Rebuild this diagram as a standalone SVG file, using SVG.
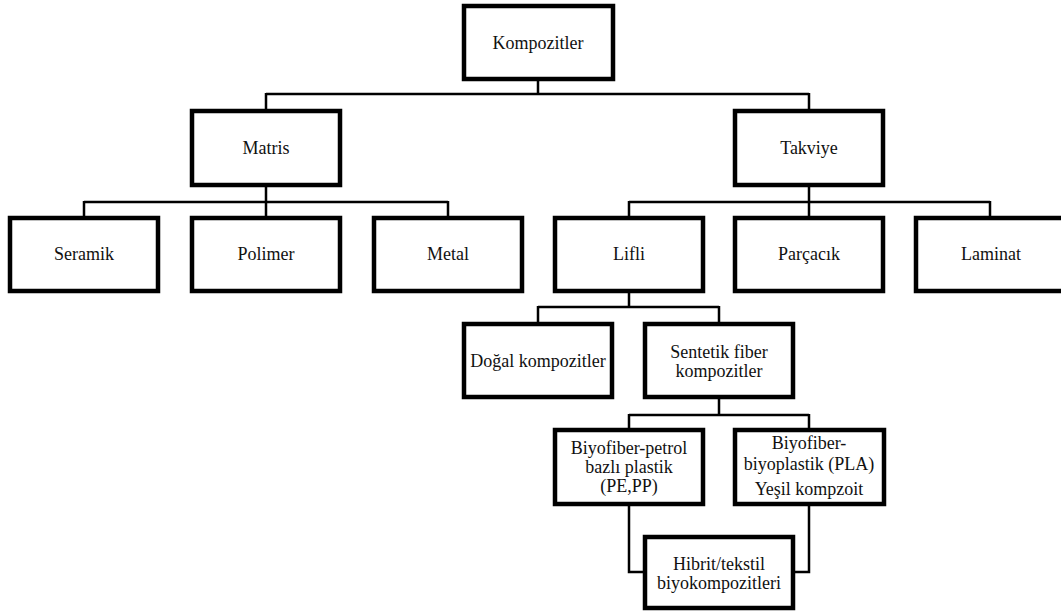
<svg xmlns="http://www.w3.org/2000/svg" width="1061" height="612" viewBox="0 0 1061 612">
<defs>
<style>
.box{fill:#fff;stroke:#000;stroke-width:4.5}
.c{fill:none;stroke:#000;stroke-width:2.5}
</style>
</defs>
<rect width="1061" height="612" fill="#fff"/>
<g id="connectors">
<path class="c" d="M538,81V94M266,94H809M266,93V109M809,93V109"/>
<path class="c" d="M266,187V202M84,202H448M84,201V216M266,201V216M448,201V216"/>
<path class="c" d="M809,187V202M629,202H990M629,201V216M809,201V216M990,201V216"/>
<path class="c" d="M629,293V307M538,307H719M538,306V322M719,306V322"/>
<path class="c" d="M719,399V415M629,415H809M629,414V428M809,414V428"/>
<path class="c" d="M629,506V572H643M809,506V572H795"/>
</g>
<g font-family="Liberation Serif" font-size="18" fill="#111" text-anchor="middle">
<g id="kompozitler"><rect class="box" x="464" y="6" width="149" height="73"/><text x="538" y="49">Kompozitler</text></g>
<g id="matris"><rect class="box" x="192" y="111" width="148" height="74"/><text x="266" y="154">Matris</text></g>
<g id="takviye"><rect class="box" x="735" y="111" width="148" height="74"/><text x="809" y="154">Takviye</text></g>
<g id="seramik"><rect class="box" x="10" y="218" width="148" height="73"/><text x="84" y="260">Seramik</text></g>
<g id="polimer"><rect class="box" x="192" y="218" width="148" height="73"/><text x="266" y="260">Polimer</text></g>
<g id="metal"><rect class="box" x="374" y="218" width="148" height="73"/><text x="448" y="260">Metal</text></g>
<g id="lifli"><rect class="box" x="555" y="218" width="148" height="73"/><text x="629" y="260">Lifli</text></g>
<g id="parcacik"><rect class="box" x="735" y="218" width="148" height="73"/><text x="809" y="260">Parçacık</text></g>
<g id="laminat"><rect class="box" x="916" y="218" width="148" height="73"/><text x="991" y="260">Laminat</text></g>
<g id="dogal"><rect class="box" x="464" y="324" width="148" height="73"/><text x="538" y="367">Doğal kompozitler</text></g>
<g id="sentetik"><rect class="box" x="645" y="324" width="148" height="73"/><text x="719" y="358">Sentetik fiber</text><text x="719" y="377">kompozitler</text></g>
<g id="biyo-petrol"><rect class="box" x="555" y="430" width="148" height="74"/><text x="629" y="454">Biyofiber-petrol</text><text x="629" y="473">bazlı plastik</text><text x="629" y="492">(PE,PP)</text></g>
<g id="biyo-pla"><rect class="box" x="735" y="430" width="149" height="74"/><text x="809" y="449">Biyofiber-</text><text x="809" y="470">biyoplastik (PLA)</text><text x="809" y="495">Yeşil kompzoit</text></g>
<g id="hibrit"><rect class="box" x="645" y="537" width="148" height="71"/><text x="719" y="570">Hibrit/tekstil</text><text x="719" y="589">biyokompozitleri</text></g>
</g>
</svg>
